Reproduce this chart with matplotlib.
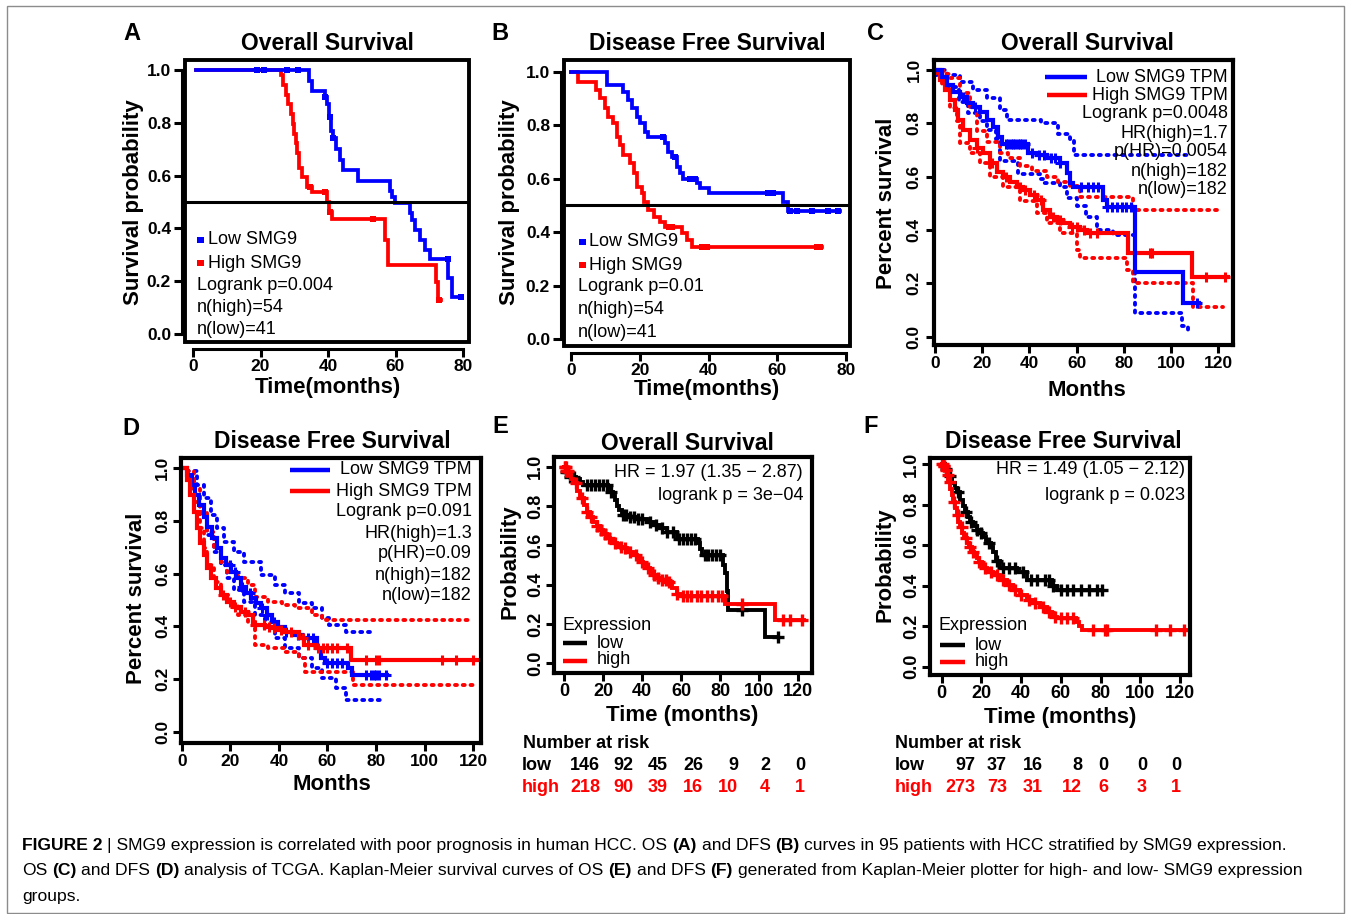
import numpy as np
import matplotlib
matplotlib.use('Agg')
import matplotlib.pyplot as plt
from matplotlib import font_manager
from matplotlib.patches import Rectangle
from matplotlib.lines import Line2D

# ---------------- values ----------------
# A: overall survival (95 HCC patients)
a_low_t = [1, 34.5, 35.2, 39.0, 39.6, 40.2, 40.8, 41.4, 42.5, 43.5, 44.5, 49.0, 58.3, 59.0, 59.8,
           64.2, 65.0, 65.7, 67.2, 68.7, 70.1, 75.6, 76.6, 79.5]
a_low_s = [1.0, 0.96, 0.92, 0.897, 0.872, 0.821, 0.77, 0.744, 0.70, 0.66, 0.62, 0.578, 0.54, 0.52, 0.498,
           0.46, 0.43, 0.395, 0.357, 0.32, 0.284, 0.212, 0.142, 0.142]
a_low_cens = [18.9, 20.9, 27.8, 31.2, 39.2, 40.5, 41.5, 75.5, 79.5]
a_high_t = [1, 26.0, 26.8, 27.5, 28.2, 28.9, 29.5, 30.0, 30.4, 30.8, 31.4, 32.2, 33.7, 35.2, 39.6,
            40.3, 41.1, 56.8, 57.8, 72.0, 72.6, 73.5]
a_high_s = [1.0, 0.981, 0.944, 0.907, 0.87, 0.833, 0.796, 0.759, 0.722, 0.685, 0.63, 0.593, 0.556, 0.537,
            0.50, 0.463, 0.435, 0.357, 0.262, 0.197, 0.13, 0.13]
a_high_cens = [34.8, 39.0, 40.5, 53.4, 73.0]

# B: disease free survival (95 HCC patients)
b_low_t = [0, 10.6, 15.2, 16.6, 17.6, 19.1, 20.1, 21.5, 22.5, 27.4, 28.3, 29.3, 30.7, 31.7, 32.7,
           36.6, 37.6, 40.0, 61.8, 63.2, 78.3]
b_low_s = [1.0, 0.951, 0.925, 0.894, 0.863, 0.832, 0.807, 0.776, 0.757, 0.732, 0.70, 0.682, 0.645, 0.62,
           0.60, 0.582, 0.564, 0.545, 0.514, 0.479, 0.479]
b_low_cens = [26.9, 30.3, 34.6, 36.1, 57.4, 58.9, 63.7, 65.7, 70.0, 74.9, 77.8]
b_high_t = [0, 2.1, 7.2, 8.5, 9.9, 10.9, 12.3, 13.3, 14.2, 15.2, 17.2, 18.3, 19.3, 20.6, 21.3, 22.5,
            24.0, 25.9, 27.3, 32.2, 33.7, 35.1, 72.9]
b_high_s = [1.0, 0.963, 0.931, 0.90, 0.863, 0.832, 0.807, 0.757, 0.726, 0.688, 0.657, 0.62, 0.57, 0.545,
            0.514, 0.483, 0.458, 0.439, 0.42, 0.395, 0.37, 0.343, 0.343]
b_high_cens = [28.5, 29.5, 38.0, 39.5, 71.5, 72.5]

# C: TCGA overall survival (GEPIA)
c_low_t = [0, 2.8, 4.9, 7.8, 10.6, 13.4, 16.2, 19.0, 21.9, 24.7, 26.8, 28.2, 39.5, 43.0, 47.3, 52.9,
           55.8, 57.2, 58.6, 71.3, 72.7, 84.7, 105.0, 112.0]
c_low_s = [1.0, 0.975, 0.944, 0.919, 0.90, 0.875, 0.8625, 0.844, 0.8125, 0.7875, 0.75, 0.722, 0.6875,
           0.68, 0.669, 0.65, 0.6125, 0.575, 0.5625, 0.5125, 0.4875, 0.244, 0.125, 0.125]
c_low_cens = [12, 17, 30, 31, 32, 33, 34, 35, 36, 37, 38, 41, 44, 46, 49, 51, 53, 62, 65, 67, 69,
              73, 75, 77, 79, 81, 83, 111]
c_high_t = [0, 2.1, 4.2, 6.4, 8.5, 9.9, 12.0, 14.8, 17.6, 20.5, 23.3, 26.1, 28.9, 31.8, 34.6, 37.4,
            40.2, 43.0, 45.9, 48.7, 51.5, 54.4, 57.2, 61.4, 64.2, 81.9, 109.0, 124.0]
c_high_s = [1.0, 0.9625, 0.925, 0.8875, 0.85, 0.8125, 0.775, 0.7375, 0.706, 0.6875, 0.65, 0.619, 0.60,
            0.581, 0.5625, 0.55, 0.531, 0.5125, 0.475, 0.45, 0.4375, 0.425, 0.4125, 0.40, 0.3875,
            0.3125, 0.225, 0.225]
c_high_cens = [18, 24, 30, 36, 38, 42, 45, 50, 53, 58, 60, 63, 65.6, 68.5, 91, 92, 115, 123]
c_low_up_t = [0, 4.9, 10.6, 16.2, 21.9, 27.5, 30.4, 45.0, 52.0, 57.0, 59.0, 108.0]
c_low_up_s = [1.0, 0.981, 0.956, 0.925, 0.894, 0.85, 0.8125, 0.80, 0.76, 0.74, 0.68, 0.68]
c_low_lo_t = [0, 2.0, 5.0, 10.0, 14.0, 19.0, 22.0, 26.0, 27.5, 35.0, 44.5, 46.0, 53.0, 55.8, 60.0,
              64.0, 68.5, 75.5, 84.7, 104.5, 107.3]
c_low_lo_s = [0.98, 0.96, 0.935, 0.88, 0.84, 0.81, 0.775, 0.74, 0.66, 0.61, 0.59, 0.575, 0.56, 0.52,
              0.49, 0.45, 0.40, 0.38, 0.09, 0.04, 0.02]
c_high_up_t = [0, 3.5, 6.4, 10.6, 14.8, 17.6, 22.0, 27.5, 31.0, 36.0, 41.0, 47.3, 52.0, 57.0, 61.4,
               84.0, 120.7]
c_high_up_s = [1.0, 0.985, 0.969, 0.9125, 0.8625, 0.77, 0.73, 0.69, 0.67, 0.64, 0.62, 0.60, 0.58,
               0.565, 0.525, 0.475, 0.475]
c_high_lo_t = [0, 2.8, 6.4, 9.2, 10.6, 14.8, 19.0, 23.3, 28.9, 36.0, 43.0, 47.3, 52.9, 60.0, 61.4,
               81.2, 84.0, 109.4, 122.0]
c_high_lo_s = [0.99, 0.94, 0.856, 0.81, 0.725, 0.69, 0.65, 0.60, 0.5625, 0.51, 0.4625, 0.425, 0.3875,
               0.325, 0.294, 0.25, 0.20, 0.1125, 0.1125]

# D: TCGA disease free survival (GEPIA)
d_low_t = [0, 2.1, 4.2, 5.6, 7.0, 9.1, 10.5, 12.6, 14.7, 16.0, 18.1, 20.2, 22.3, 24.4, 26.5, 28.6,
           30.7, 32.8, 34.9, 37.0, 39.8, 42.6, 46.0, 49.5, 55.8, 57.2, 59.0, 68.5, 70.0, 84.4]
d_low_s = [1.0, 0.975, 0.937, 0.899, 0.861, 0.816, 0.778, 0.734, 0.696, 0.658, 0.633, 0.608, 0.582,
           0.551, 0.525, 0.506, 0.487, 0.468, 0.443, 0.418, 0.399, 0.38, 0.367, 0.355, 0.316, 0.28,
           0.26, 0.24, 0.215, 0.215]
d_low_cens = [20, 22, 25, 28, 33, 35, 38, 43, 48, 50, 52, 54, 60, 62, 64, 66, 76, 78, 79, 80, 81, 84]
d_high_t = [0, 2.1, 3.5, 4.9, 6.3, 7.7, 9.1, 10.5, 11.9, 14.0, 16.0, 18.8, 21.6, 24.4, 27.2, 29.3,
            34.2, 37.0, 39.8, 42.6, 48.1, 50.2, 55.1, 69.8, 122.8]
d_high_s = [1.0, 0.956, 0.899, 0.835, 0.772, 0.715, 0.671, 0.62, 0.582, 0.544, 0.519, 0.494, 0.475,
            0.456, 0.443, 0.405, 0.399, 0.392, 0.386, 0.38, 0.354, 0.329, 0.316, 0.272, 0.272]
d_high_cens = [17, 20, 22, 26, 30, 34, 36, 38, 41, 45, 50, 52, 56, 58, 60, 62, 64, 68, 76, 80, 81,
               107, 113, 120]
d_low_up_t = [0, 2.1, 6.3, 9.1, 11.9, 14.7, 17.4, 21.6, 25.8, 32.8, 38.4, 42.6, 48.1, 53.7, 57.9,
              60.7, 67.7, 78.8]
d_low_up_s = [1.0, 0.99, 0.937, 0.886, 0.823, 0.772, 0.722, 0.684, 0.646, 0.595, 0.557, 0.525, 0.487,
              0.468, 0.43, 0.405, 0.38, 0.38]
d_low_lo_t = [0, 2.1, 4.9, 7.7, 10.5, 13.3, 16.0, 18.8, 21.6, 25.8, 30.0, 34.2, 38.4, 42.6, 48.1,
              53.7, 57.9, 63.5, 67.7, 81.6]
d_low_lo_s = [1.0, 0.968, 0.899, 0.823, 0.747, 0.684, 0.633, 0.582, 0.538, 0.494, 0.443, 0.392, 0.354,
              0.316, 0.278, 0.24, 0.203, 0.165, 0.12, 0.12]
d_high_up_t = [0, 2.1, 4.9, 7.7, 10.5, 13.3, 16.0, 18.8, 23.0, 27.2, 30.0, 35.6, 41.2, 46.7, 53.7,
               57.9, 59.3, 118.0]
d_high_up_s = [1.0, 0.99, 0.924, 0.835, 0.759, 0.696, 0.646, 0.608, 0.582, 0.557, 0.513, 0.494, 0.481,
               0.468, 0.443, 0.43, 0.424, 0.424]
d_high_lo_t = [0, 2.1, 4.9, 7.7, 9.1, 10.5, 13.3, 16.0, 19.5, 23.0, 27.2, 30.0, 35.6, 42.6, 48.1,
               50.9, 70.5, 120.7]
d_high_lo_s = [1.0, 0.97, 0.873, 0.772, 0.696, 0.633, 0.57, 0.519, 0.481, 0.443, 0.418, 0.329, 0.316,
               0.304, 0.278, 0.228, 0.177, 0.177]

# E: KM plotter overall survival
e_low_t = [0, 1.0, 2.5, 6.0, 8.0, 9.9, 22.7, 24.0, 25.0, 26.1, 27.0, 28.0, 29.5, 33.0, 37.0, 42.3,
           46.0, 49.0, 52.6, 57.7, 68.8, 69.6, 70.5, 81.6, 82.5, 83.3, 84.2, 102.9, 109.8]
e_low_s = [1.0, 0.975, 0.95, 0.935, 0.92, 0.905, 0.89, 0.87, 0.85, 0.83, 0.80, 0.78, 0.754, 0.745,
           0.735, 0.72, 0.705, 0.69, 0.67, 0.63, 0.61, 0.58, 0.55, 0.50, 0.46, 0.37, 0.27, 0.136, 0.136]
e_low_cens = [1, 2, 3, 5, 12, 14, 16, 18, 20, 22, 24, 30, 32, 34, 36, 38, 40, 44, 47, 50, 53, 56, 59,
              61, 63, 65, 67, 72, 74, 76, 78, 80, 91, 109.8]
e_high_t = [0, 1.0, 2.0, 3.5, 4.8, 6.5, 8.2, 10.0, 11.6, 13.3, 15.0, 16.7, 18.4, 20.0, 21.9, 23.5,
            25.3, 27.0, 28.7, 30.4, 32.1, 33.8, 35.5, 37.2, 38.9, 40.6, 42.3, 44.0, 45.7, 47.5, 49.2,
            52.6, 55.1, 57.7, 60.0, 82.5, 108.0, 123.0]
e_high_s = [1.0, 0.98, 0.96, 0.935, 0.915, 0.875, 0.839, 0.805, 0.771, 0.745, 0.72, 0.70, 0.678, 0.657,
            0.636, 0.623, 0.61, 0.60, 0.593, 0.585, 0.576, 0.565, 0.551, 0.535, 0.517, 0.50, 0.483,
            0.466, 0.449, 0.436, 0.424, 0.415, 0.381, 0.35, 0.34, 0.30, 0.22, 0.22]
e_high_cens = [0.3, 0.6, 0.9, 1.2, 1.5, 1.8, 6, 9, 12, 14, 17, 19, 21, 23, 26, 29, 31, 34, 37, 40, 43,
               46, 48, 50, 52, 54, 58, 61, 63, 65, 68, 70, 73, 76, 79, 81, 91, 112, 116, 122]
e_risk_low = [146, 92, 45, 26, 9, 2, 0]
e_risk_high = [218, 90, 39, 16, 10, 4, 1]

# F: KM plotter disease free survival
f_low_t = [0, 1.7, 3.4, 5.0, 6.7, 7.6, 9.2, 10.5, 11.7, 13.0, 14.3, 16.0, 17.6, 19.3, 21.0, 22.2,
           23.5, 24.8, 26.0, 27.2, 29.4, 38.0, 43.0, 55.5, 58.0, 80.6]
f_low_s = [1.0, 0.975, 0.94, 0.91, 0.885, 0.865, 0.824, 0.795, 0.766, 0.74, 0.717, 0.695, 0.675, 0.66,
           0.643, 0.625, 0.61, 0.59, 0.568, 0.52, 0.49, 0.47, 0.43, 0.40, 0.38, 0.38]
f_low_cens = [2, 4, 8, 12, 15, 18, 20, 24, 28, 31, 34, 37, 41, 45, 48, 52, 54, 56, 60, 63, 66, 70,
              74, 78, 80.6]
f_high_t = [0, 0.8, 1.7, 2.5, 3.4, 4.2, 5.0, 5.9, 6.7, 7.6, 8.4, 9.3, 10.1, 11.3, 12.6, 13.8, 15.1,
            16.3, 17.6, 18.8, 20.1, 21.4, 22.7, 26.0, 29.4, 32.7, 36.1, 39.4, 42.8, 46.2, 49.5, 52.9,
            55.4, 58.0, 67.5, 69.0, 70.5, 123.0]
f_high_s = [1.0, 0.99, 0.972, 0.945, 0.914, 0.88, 0.848, 0.815, 0.783, 0.75, 0.717, 0.688, 0.659, 0.635,
            0.61, 0.59, 0.568, 0.55, 0.535, 0.518, 0.502, 0.486, 0.47, 0.453, 0.428, 0.404, 0.379,
            0.354, 0.329, 0.313, 0.297, 0.272, 0.247, 0.239, 0.22, 0.20, 0.181, 0.181]
f_high_cens = [0.3, 0.6, 1.0, 1.4, 2, 3, 4, 6, 8, 10, 12, 14, 16, 19, 22, 25, 28, 31, 34, 37, 40, 44,
               47, 51, 54, 57, 60, 63, 66, 76, 82, 83, 108, 115, 122]
f_risk_low = [97, 37, 16, 8, 0, 0, 0]
f_risk_high = [273, 73, 31, 12, 6, 3, 1]

caption = [
    "**FIGURE 2** | SMG9 expression is correlated with poor prognosis in human HCC. OS **(A)** and DFS "
    "**(B)** curves in 95 patients with HCC stratified by SMG9 expression.",
    "OS **(C)** and DFS **(D)** analysis of TCGA. Kaplan-Meier survival curves of OS **(E)** and DFS "
    "**(F)** generated from Kaplan-Meier plotter for high- and low- SMG9 expression",
    "groups.",
]

BLUE, RED = '#0000ff', '#ff0000'
W, H = 1356, 914
plt.rcParams['font.family'] = ['Liberation Sans', 'DejaVu Sans']

fig = plt.figure(figsize=(W / 100, H / 100), dpi=100)


def fx(x):
    return x / W


def fy(y):
    return 1 - y / H


def ftext(x, y, s, **kw):
    kw.setdefault('ha', 'center')
    kw.setdefault('va', 'center')
    return fig.text(fx(x), fy(y), s, **kw)


def fline(x0, x1, y, color, lw):
    fig.add_artist(Line2D([fx(x0), fx(x1)], [fy(y), fy(y)], transform=fig.transFigure,
                          color=color, lw=lw, solid_capstyle='butt'))


def fsquare(x, y, color, w=7, h=6):
    fig.add_artist(Rectangle((fx(x - w / 2), fy(y + h / 2)), w / W, h / H,
                             transform=fig.transFigure, color=color, lw=0))


def box_axes(box, xref, yref):
    # box = left, top, right, bottom in pixels; refs = two (pixel, value) pairs
    l, t, r, b = box
    ax = fig.add_axes([fx(l), fy(b), (r - l) / W, (b - t) / H])
    (p0, v0), (p1, v1) = xref
    k = (v1 - v0) / (p1 - p0)
    ax.set_xlim(v0 + (l - p0) * k, v0 + (r - p0) * k)
    (p0, v0), (p1, v1) = yref
    k = (v1 - v0) / (p1 - p0)
    ax.set_ylim(v0 + (b - p0) * k, v0 + (t - p0) * k)
    ax.patch.set_alpha(0)
    return ax


def step_at(t, s, c):
    i = np.searchsorted(t, c, side='right') - 1
    return np.asarray(s)[np.clip(i, 0, len(s) - 1)]


def km(ax, t, s, cens, color, lw, marker, ms, mew, z=3):
    ax.plot(t, s, drawstyle='steps-post', color=color, lw=lw, zorder=z, solid_joinstyle='miter')
    ax.plot(cens, step_at(t, s, cens), ls='none', marker=marker, ms=ms, mew=mew,
            color=color, zorder=z)


def band(ax, t, s, color):
    ax.plot(t, s, drawstyle='steps-post', color=color, lw=2.8, ls=(0, (0.5, 1.5)),
            dash_capstyle='round', zorder=2)


def prism_axes(ax, xt):
    yt = [0, 0.2, 0.4, 0.6, 0.8, 1.0]
    ax.spines['top'].set_visible(False)
    ax.spines['right'].set_visible(False)
    ax.spines['left'].set_position(('outward', 2.5))
    ax.spines['bottom'].set_position(('outward', 5))
    ax.spines['left'].set_bounds(0, 1)
    ax.spines['bottom'].set_bounds(xt[0], xt[-1])
    for sp in ['left', 'bottom']:
        ax.spines[sp].set_linewidth(2.2)
    ax.add_patch(Rectangle((0, 0), 1, 1, transform=ax.transAxes, fill=False, lw=2.8,
                           ec='k', clip_on=False, zorder=6))
    ax.set_xticks(xt)
    ax.set_xticklabels([str(v) for v in xt], fontweight='bold')
    ax.set_yticks(yt)
    ax.set_yticklabels([f'{v:.1f}' for v in yt], fontweight='bold')
    ax.tick_params(direction='out', length=6, width=2.2, labelsize=12.5, pad=1.5)
    ax.axhline(0.5, color='k', lw=2.2, zorder=5)


def r_axes(ax, xt, size, ypad, xpad):
    yt = [0, 0.2, 0.4, 0.6, 0.8, 1.0]
    for sp in ax.spines.values():
        sp.set_linewidth(3)
        sp.set_zorder(6)
    ax.set_xticks(xt)
    ax.set_xticklabels([str(v) for v in xt], fontweight='bold')
    ax.set_yticks(yt)
    ax.set_yticklabels([f'{v:.1f}' for v in yt], fontweight='bold', rotation=90, va='center')
    ax.tick_params(direction='out', length=6, width=2.2, labelsize=size)
    ax.tick_params(axis='y', pad=ypad)
    ax.tick_params(axis='x', pad=xpad)


# ---------------- A ----------------
ax = box_axes((185, 60, 469, 342), ((193, 0), (463, 80)), ((334, 0), (70, 1)))
prism_axes(ax, [0, 20, 40, 60, 80])
km(ax, a_high_t, a_high_s, a_high_cens, RED, 2.7, 's', 5, 0, z=3)
km(ax, a_low_t, a_low_s, a_low_cens, BLUE, 2.7, 's', 5, 0, z=4)
ftext(132, 34, 'A', fontsize=17, fontweight='bold')
ftext(327, 43, 'Overall Survival', fontsize=16.5, fontweight='bold')
ftext(328, 388, 'Time(months)', fontsize=16, fontweight='bold')
ftext(133, 202, 'Survival probability', fontsize=16, fontweight='bold', rotation=90)
fsquare(200, 240, BLUE)
fsquare(200, 263, RED)
ftext(208, 240, 'Low SMG9', fontsize=13, ha='left')
ftext(208, 263, 'High SMG9', fontsize=13, ha='left')
for y, s in zip([285, 307, 329], ['Logrank p=0.004', 'n(high)=54', 'n(low)=41']):
    ftext(197, y, s, fontsize=13, ha='left')

# ---------------- B ----------------
ax = box_axes((564, 60, 850, 346), ((571, 0), (846, 80)), ((339, 0), (71.7, 1)))
prism_axes(ax, [0, 20, 40, 60, 80])
km(ax, b_high_t, b_high_s, b_high_cens, RED, 2.7, 's', 5, 0, z=3)
km(ax, b_low_t, b_low_s, b_low_cens, BLUE, 2.7, 's', 5, 0, z=4)
ftext(500, 33, 'B', fontsize=17, fontweight='bold')
ftext(707, 43, 'Disease Free Survival', fontsize=16.5, fontweight='bold')
ftext(707, 389, 'Time(months)', fontsize=16, fontweight='bold')
ftext(510, 202, 'Survival probability', fontsize=16, fontweight='bold', rotation=90)
fsquare(582, 242, BLUE)
fsquare(582, 265, RED)
ftext(589, 242, 'Low SMG9', fontsize=13, ha='left')
ftext(589, 265, 'High SMG9', fontsize=13, ha='left')
for y, s in zip([287, 309, 332], ['Logrank p=0.01', 'n(high)=54', 'n(low)=41']):
    ftext(578, y, s, fontsize=13, ha='left')

# ---------------- C ----------------
ax = box_axes((934, 60, 1233, 345), ((935, 0), (1218.3, 120)), ((336.7, 0), (70, 1)))
r_axes(ax, [0, 20, 40, 60, 80, 100, 120], 12.5, 3, 2)
band(ax, c_low_up_t, c_low_up_s, BLUE)
band(ax, c_low_lo_t, c_low_lo_s, BLUE)
band(ax, c_high_up_t, c_high_up_s, RED)
band(ax, c_high_lo_t, c_high_lo_s, RED)
km(ax, c_high_t, c_high_s, c_high_cens, RED, 3, '+', 7, 2.2, z=3)
km(ax, c_low_t, c_low_s, c_low_cens, BLUE, 3, '+', 7, 2.2, z=4)
ftext(875, 33, 'C', fontsize=17, fontweight='bold')
ftext(1087, 43, 'Overall Survival', fontsize=16.5, fontweight='bold')
ftext(1087, 390, 'Months', fontsize=16, fontweight='bold')
ftext(887, 203, 'Percent survival', fontsize=16, fontweight='bold', rotation=90)
fline(1045, 1087, 77, BLUE, 3.2)
fline(1047, 1087, 95, RED, 3.2)
for y, s in zip([77, 95, 114, 133, 152, 172, 190],
                ['Low SMG9 TPM', 'High SMG9 TPM', 'Logrank p=0.0048', 'HR(high)=1.7',
                 'p(HR)=0.0054', 'n(high)=182', 'n(low)=182']):
    ftext(1228, y, s, fontsize=13, ha='right')

# ---------------- D ----------------
ax = box_axes((181, 458, 481, 743), ((181.7, 0), (473.3, 120)), ((731.7, 0), (468.3, 1)))
r_axes(ax, [0, 20, 40, 60, 80, 100, 120], 12.5, 2, 2)
band(ax, d_low_up_t, d_low_up_s, BLUE)
band(ax, d_low_lo_t, d_low_lo_s, BLUE)
band(ax, d_high_up_t, d_high_up_s, RED)
band(ax, d_high_lo_t, d_high_lo_s, RED)
km(ax, d_low_t, d_low_s, d_low_cens, BLUE, 3, '+', 7, 2.2, z=3)
km(ax, d_high_t, d_high_s, d_high_cens, RED, 3, '+', 7, 2.2, z=4)
ftext(131, 428, 'D', fontsize=17, fontweight='bold')
ftext(332, 442, 'Disease Free Survival', fontsize=16.5, fontweight='bold')
ftext(332, 785, 'Months', fontsize=16, fontweight='bold')
ftext(137, 598, 'Percent survival', fontsize=16, fontweight='bold', rotation=90)
fline(290, 330, 470, BLUE, 3.2)
fline(290, 330, 491, RED, 3.2)
for y, s in zip([470, 491, 512, 533, 554, 575, 595],
                ['Low SMG9 TPM', 'High SMG9 TPM', 'Logrank p=0.091', 'HR(high)=1.3',
                 'p(HR)=0.09', 'n(high)=182', 'n(low)=182']):
    ftext(472, y, s, fontsize=13, ha='right')

# ---------------- E ----------------
ax = box_axes((554, 457, 812, 673), ((564, 0), (798.3, 120)), ((663.3, 0), (466.7, 1)))
r_axes(ax, [0, 20, 40, 60, 80, 100, 120], 13, 1, 1)
km(ax, e_low_t, e_low_s, e_low_cens, 'k', 2.8, '+', 8, 2.4, z=3)
km(ax, e_high_t, e_high_s, e_high_cens, RED, 2.8, '+', 8, 2.4, z=4)
ftext(500, 426, 'E', fontsize=17, fontweight='bold')
ftext(687, 443, 'Overall Survival', fontsize=16.5, fontweight='bold')
ftext(682, 715, 'Time (months)', fontsize=16, fontweight='bold')
ftext(510, 562, 'Probability', fontsize=16, fontweight='bold', rotation=90)
ftext(803, 473, 'HR = 1.97 (1.35 \u2212 2.87)', fontsize=13, ha='right')
ftext(803, 495, 'logrank p = 3e\u221204', fontsize=13, ha='right')
ftext(562, 626, 'Expression', fontsize=13, ha='left')
fline(563, 587, 643, 'k', 3.2)
fline(563, 587, 661, RED, 3.2)
ftext(597, 643, 'low', fontsize=13, ha='left')
ftext(597, 660, 'high', fontsize=13, ha='left')
ftext(523, 743, 'Number at risk', fontsize=13, fontweight='bold', ha='left')
ftext(522, 765, 'low', fontsize=13, fontweight='bold', ha='left')
ftext(522, 788, 'high', fontsize=13, fontweight='bold', ha='left', color=RED)
for x, n_lo, n_hi in zip([600, 633, 668, 703, 738, 770, 805], e_risk_low, e_risk_high):
    ftext(x, 765, str(n_lo), fontsize=13, fontweight='bold', ha='right')
    ftext(x, 788, str(n_hi), fontsize=13, fontweight='bold', ha='right', color=RED)

# ---------------- F ----------------
ax = box_axes((930, 458, 1190, 675), ((941.7, 0), (1180, 120)), ((666.7, 0), (464.3, 1)))
r_axes(ax, [0, 20, 40, 60, 80, 100, 120], 13, 1, 1)
km(ax, f_low_t, f_low_s, f_low_cens, 'k', 2.8, '+', 8, 2.4, z=3)
km(ax, f_high_t, f_high_s, f_high_cens, RED, 2.8, '+', 8, 2.4, z=4)
ftext(871, 426, 'F', fontsize=17, fontweight='bold')
ftext(1063, 442, 'Disease Free Survival', fontsize=16.5, fontweight='bold')
ftext(1060, 717, 'Time (months)', fontsize=16, fontweight='bold')
ftext(885, 565, 'Probability', fontsize=16, fontweight='bold', rotation=90)
ftext(1185, 470, 'HR = 1.49 (1.05 \u2212 2.12)', fontsize=13, ha='right')
ftext(1185, 495, 'logrank p = 0.023', fontsize=13, ha='right')
ftext(938, 626, 'Expression', fontsize=13, ha='left')
fline(940, 965, 645, 'k', 3.2)
fline(940, 965, 662, RED, 3.2)
ftext(975, 645, 'low', fontsize=13, ha='left')
ftext(975, 661, 'high', fontsize=13, ha='left')
ftext(895, 743, 'Number at risk', fontsize=13, fontweight='bold', ha='left')
ftext(895, 765, 'low', fontsize=13, fontweight='bold', ha='left')
ftext(895, 788, 'high', fontsize=13, fontweight='bold', ha='left', color=RED)
for x, n_lo, n_hi in zip([975, 1007, 1043, 1082, 1108, 1147, 1181], f_risk_low, f_risk_high):
    ftext(x, 765, str(n_lo), fontsize=13, fontweight='bold', ha='right')
    ftext(x, 788, str(n_hi), fontsize=13, fontweight='bold', ha='right', color=RED)

# ---------------- caption ----------------
names = {f.name for f in font_manager.fontManager.ttflist}
cap_family = ['Liberation Sans Narrow'] if 'Liberation Sans Narrow' in names else ['Liberation Sans']
renderer = fig.canvas.get_renderer()


def text_w(s, size, bold):
    t = fig.text(0, 0, s, fontsize=size, fontweight='bold' if bold else 'normal', family=cap_family)
    w = t.get_window_extent(renderer=renderer).width
    t.remove()
    return w


def rich_line(x, y, src, size, draw=True):
    # pieces between ** are bold; all pieces share one baseline
    sp = text_w('a a', size, False) - text_w('aa', size, False)
    pos = x
    for i, piece in enumerate(src.split('**')):
        bold = i % 2 == 1
        core = piece.strip(' ')
        pos += (len(piece) - len(piece.lstrip(' '))) * sp
        if core:
            if draw:
                ftext(pos, y, core, fontsize=size, fontweight='bold' if bold else 'normal',
                      ha='left', va='baseline', family=cap_family)
            pos += text_w(core, size, bold)
        pos += (len(piece) - len(piece.rstrip(' '))) * sp
    return pos


cap_size = 10 * (1305 - 22) / (rich_line(22, 0, caption[1], 10, draw=False) - 22)
for y, line in zip([850, 875, 901], caption):
    rich_line(22, y, line, cap_size)

# thin grey frame around the whole figure
fig.add_artist(Rectangle((fx(7), fy(913)), (1344 - 7) / W, (913 - 6) / H, transform=fig.transFigure,
                         fill=False, ec='#8c8c8c', lw=1))

fig.savefig('out.png', dpi=100)
